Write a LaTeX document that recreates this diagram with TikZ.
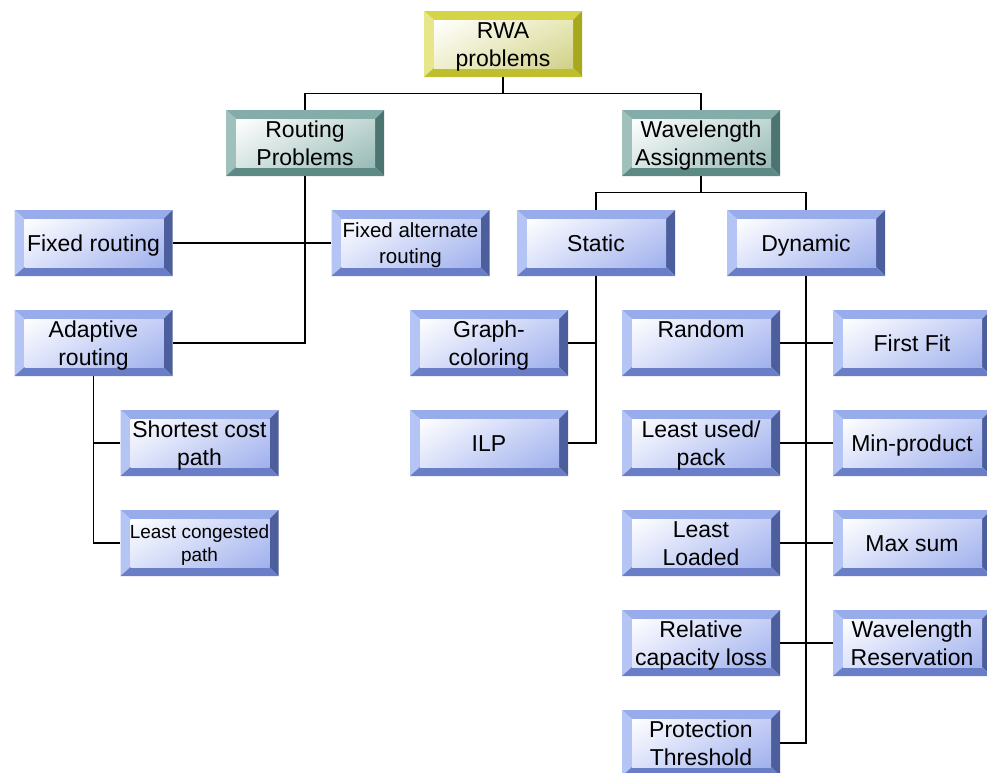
\documentclass[tikz,border=0pt]{standalone}
\usepackage{fontspec}
\setmainfont{Liberation Sans}
\usetikzlibrary{calc,shadings}
% blue scheme
\definecolor{blT}{HTML}{98ACEC}
\definecolor{blL}{HTML}{B4C4F4}
\definecolor{blR}{HTML}{4C5E9C}
\definecolor{blB}{HTML}{6A7EC8}
\definecolor{blUL}{HTML}{FFFFFF}
\definecolor{blUR}{HTML}{C4CEF6}
\definecolor{blLL}{HTML}{DDE3FA}
\definecolor{blLR}{HTML}{9FB0EC}
% teal scheme
\definecolor{tlT}{HTML}{84ACA8}
\definecolor{tlL}{HTML}{A0C0BC}
\definecolor{tlR}{HTML}{4C7470}
\definecolor{tlB}{HTML}{5E8A86}
\definecolor{tlUL}{HTML}{FFFFFF}
\definecolor{tlUR}{HTML}{C0D6D3}
\definecolor{tlLL}{HTML}{D8E6E4}
\definecolor{tlLR}{HTML}{98BAB6}
% yellow scheme
\definecolor{ylT}{HTML}{D4D448}
\definecolor{ylL}{HTML}{E6E68A}
\definecolor{ylR}{HTML}{A8A81C}
\definecolor{ylB}{HTML}{BEBE2E}
\definecolor{ylUL}{HTML}{FFFFFF}
\definecolor{ylUR}{HTML}{E8E8B8}
\definecolor{ylLL}{HTML}{F0F0D0}
\definecolor{ylLR}{HTML}{D0D088}
\newcommand\bevfill[1]{%
  \fill[#1T] (path picture bounding box.north west) -- (path picture bounding box.north east)
     -- ([xshift=-9pt,yshift=-9pt]path picture bounding box.north east)
     -- ([xshift=10pt,yshift=-9pt]path picture bounding box.north west) -- cycle;
  \fill[#1L] (path picture bounding box.north west) -- ([xshift=10pt,yshift=-9pt]path picture bounding box.north west)
     -- ([xshift=10pt,yshift=9pt]path picture bounding box.south west)
     -- (path picture bounding box.south west) -- cycle;
  \fill[#1R] (path picture bounding box.north east) -- (path picture bounding box.south east)
     -- ([xshift=-9pt,yshift=9pt]path picture bounding box.south east)
     -- ([xshift=-9pt,yshift=-9pt]path picture bounding box.north east) -- cycle;
  \fill[#1B] (path picture bounding box.south west) -- ([xshift=10pt,yshift=9pt]path picture bounding box.south west)
     -- ([xshift=-9pt,yshift=9pt]path picture bounding box.south east)
     -- (path picture bounding box.south east) -- cycle;
  \shade[upper left=#1UL, upper right=#1UR, lower left=#1LL, lower right=#1LR]
     ([xshift=10pt,yshift=-9pt]path picture bounding box.north west) rectangle
     ([xshift=-9pt,yshift=9pt]path picture bounding box.south east);
}
% one line of box text: fixed height, no depth
\newcommand\bline[1]{\rule{0pt}{0.74em}\smash{#1}}
\tikzset{
  bevbox/.style={rectangle, fill=white, minimum width=158pt, minimum height=66pt,
     inner sep=0pt, align=center, text=black,
     font=\fontsize{23}{27.5}\selectfont, path picture={\bevfill{#1}}},
  bluebox/.style={bevbox=bl},
  tealbox/.style={bevbox=tl},
  yellowbox/.style={bevbox=yl},
  conn/.style={draw=black, line width=1.5pt},
}
\begin{document}
\begin{tikzpicture}[x=1pt,y=-1pt]
\useasboundingbox (0,0) rectangle (987,772);
% nodes
\node[yellowbox] (rwa) at (503,44) {\bline{RWA}\\\bline{problems}};
\node[tealbox] (rp) at (305,143) {\bline{Routing}\\\bline{Problems}};
\node[tealbox] (wa) at (701,143) {\bline{Wavelength}\\\bline{Assignments}};
\node[bluebox] (fr) at (93.5,243) {\bline{Fixed routing}};
\node[bluebox, font=\fontsize{20.5}{26}\selectfont] (far) at (410.5,243) {\bline{Fixed alternate}\\\bline{routing}};
\node[bluebox] (st) at (596,243) {\bline{Static}};
\node[bluebox] (dy) at (806,243) {\bline{Dynamic}};
\node[bluebox] (ar) at (93.5,343) {\bline{Adaptive}\\\bline{routing}};
\node[bluebox] (gc) at (489,343) {\bline{Graph-}\\\bline{coloring}};
\node[bluebox] (rnd) at (701,343) {\bline{Random}\\\bline{}};
\node[bluebox] (ff) at (912,343) {\bline{First Fit}};
\node[bluebox] (scp) at (199.5,443) {\bline{Shortest cost}\\\bline{path}};
\node[bluebox] (ilp) at (489,443) {\bline{ILP}};
\node[bluebox] (lu) at (701,443) {\bline{Least used/}\\\bline{pack}};
\node[bluebox] (mp) at (912,443) {\bline{Min-product}};
\node[bluebox, font=\fontsize{19}{23}\selectfont] (lcp) at (199.5,543) {\bline{Least congested}\\\bline{path}};
\node[bluebox] (ll) at (701,543) {\bline{Least}\\\bline{Loaded}};
\node[bluebox] (ms) at (912,543) {\bline{Max sum}};
\node[bluebox] (rcl) at (701,643) {\bline{Relative}\\\bline{capacity loss}};
\node[bluebox] (wr) at (912,643) {\bline{Wavelength}\\\bline{Reservation}};
\node[bluebox] (pt) at (701,743) {\bline{Protection}\\\bline{Threshold}};
% connectors
\draw[conn] (rwa.south) -- ++(0,16.5) -| (rp.north);
\draw[conn] (rwa.south) -- ++(0,16.5) -| (wa.north);
\draw[conn] (rp.south) |- (ar.east);
\draw[conn] (fr.east) -- (far.west);
\draw[conn] (wa.south) -- ++(0,16.5) -| (st.north);
\draw[conn] (wa.south) -- ++(0,16.5) -| (dy.north);
\draw[conn] (st.south) |- (ilp.east);
\draw[conn] (gc.east) -- (gc.east -| st.south);
\draw[conn] (dy.south) |- (pt.east);
\draw[conn] (rnd.east) -- (ff.west);
\draw[conn] (lu.east) -- (mp.west);
\draw[conn] (ll.east) -- (ms.west);
\draw[conn] (rcl.east) -- (wr.west);
\draw[conn] (ar.south) |- (lcp.west);
\draw[conn] (scp.west) -- (scp.west -| ar.south);
\end{tikzpicture}
\end{document}
